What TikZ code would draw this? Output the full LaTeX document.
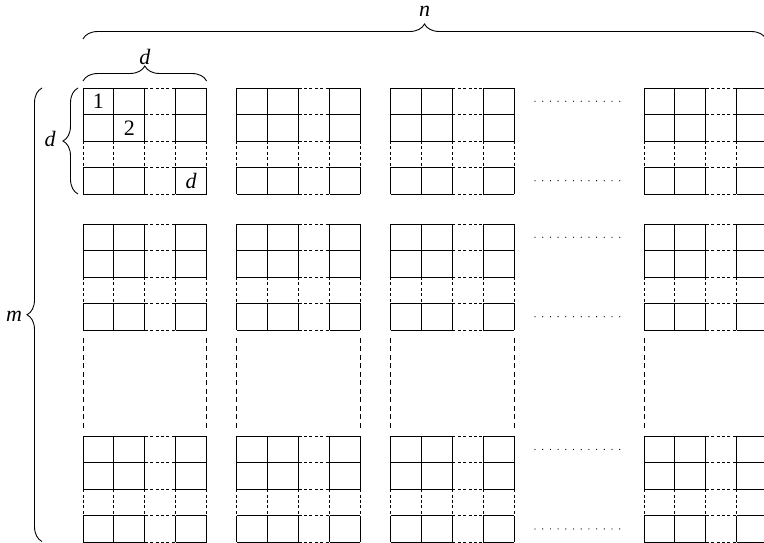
\documentclass[tikz,border=0pt]{standalone}
\usepackage{fontspec}
\setmainfont{Liberation Serif}
\usetikzlibrary{decorations.pathreplacing}
\def\cellw{30.9}
\def\cellh{26.5}
\tikzset{
  solidln/.style={line width=0.9pt},
  dashln/.style={line width=0.9pt, dash pattern=on 3pt off 2.4pt},
  gapln/.style={line width=0.9pt, dash pattern=on 5pt off 3.5pt},
  dotln/.style={line width=1.3pt, line cap=round, dash pattern=on 0pt off 7.7pt},
  bracestyle/.style={line width=0.9pt, decorate, decoration={brace, amplitude=15pt}},
  lbl/.style={inner sep=0pt, anchor=base, font=\fontsize{22}{26}\selectfont\itshape},
  num/.style={inner sep=0pt, font=\fontsize{22}{26}\selectfont},
  blk/.pic={
    \foreach \r in {0,...,4}{
      \draw[solidln] (0,{-\r*\cellh}) -- ({2*\cellw},{-\r*\cellh});
      \draw[dashln] ({2*\cellw},{-\r*\cellh}) -- ({3*\cellw},{-\r*\cellh});
      \draw[solidln] ({3*\cellw},{-\r*\cellh}) -- ({4*\cellw},{-\r*\cellh});
    }
    \foreach \c in {0,...,4}{
      \draw[solidln] ({\c*\cellw},0) -- ({\c*\cellw},{-2*\cellh});
      \draw[dashln] ({\c*\cellw},{-2*\cellh}) -- ({\c*\cellw},{-3*\cellh});
      \draw[solidln] ({\c*\cellw},{-3*\cellh}) -- ({\c*\cellw},{-4*\cellh});
    }
  }
}
\begin{document}
\begin{tikzpicture}[x=1pt,y=1pt]
\useasboundingbox (0,0) rectangle (764,543);
\clip (0,0) rectangle (764,543);
% blocks
\foreach \bx in {83,236.8,390.5,644}{
  \foreach \by in {455,319,106.8}{
    \pic at (\bx,\by) {blk};
  }
  % gap dashed verticals
  \draw[gapln] (\bx,205) -- (\bx,115);
  \draw[gapln] ({\bx+4*\cellw},205) -- ({\bx+4*\cellw},115);
}
% horizontal ellipsis dots
\foreach \by in {455,319,106.8}{
  \coordinate (dA) at (535,{\by-0.5*\cellh});
  \coordinate (dB) at (620,{\by-0.5*\cellh});
  \coordinate (dC) at (535,{\by-3.5*\cellh});
  \coordinate (dD) at (620,{\by-3.5*\cellh});
  \draw[dotln] (dA) -- (dB);
  \draw[dotln] (dC) -- (dD);
}
% cell labels
\node[num] (c1) at ({83+0.5*\cellw},{455-0.5*\cellh}) {1};
\node[num] (c2) at ({83+1.5*\cellw},{455-1.5*\cellh}) {2};
\node[num, font=\fontsize{22}{26}\selectfont\itshape] (cd) at ({83+3.5*\cellw},{455-3.5*\cellh}) {d};
% braces
\coordinate (nA) at (83,504);
\coordinate (nB) at (766,504);
\draw[bracestyle] (nA) -- (nB);
\node[lbl] (nlab) at (424.5,526) {n};
\coordinate (dtA) at (83,462);
\coordinate (dtB) at (206.6,462);
\draw[bracestyle] (dtA) -- (dtB);
\node[lbl] (dtlab) at (144.8,478.5) {d};
\coordinate (dlA) at (78,349);
\coordinate (dlB) at (78,455);
\draw[bracestyle] (dlA) -- (dlB);
\node[lbl] (dllab) at (50,396.3) {d};
\coordinate (mA) at (42,1.5);
\coordinate (mB) at (42,455);
\draw[bracestyle] (mA) -- (mB);
\node[lbl] (mlab) at (14,221.3) {m};
\end{tikzpicture}
\end{document}
